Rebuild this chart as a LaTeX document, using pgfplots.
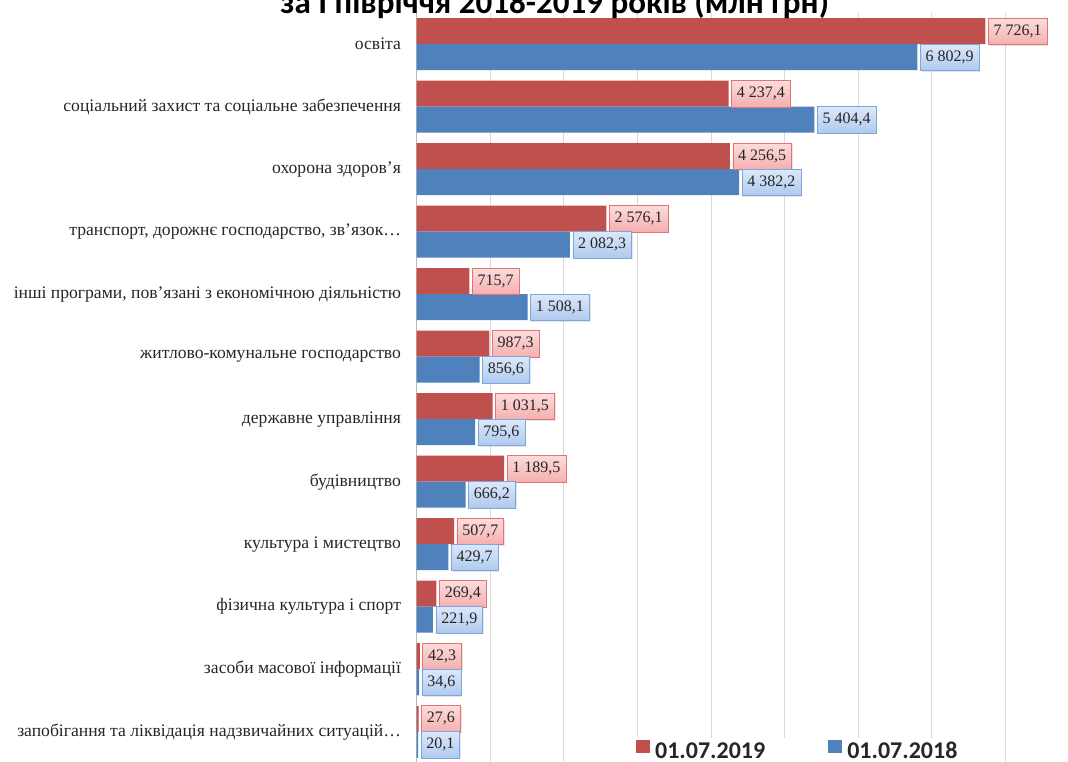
\documentclass[border=0pt]{standalone}
\usepackage{pgfplots}
\pgfplotsset{compat=1.18}
\usepackage{fontspec}
\setmainfont{Liberation Serif}
\newfontfamily\calibri{Carlito}
\usetikzlibrary{shadows}
\definecolor{red19}{HTML}{C0504D}
\definecolor{blue18}{HTML}{4F81BD}
\definecolor{gridc}{HTML}{D9D9D9}
\definecolor{redtop}{HTML}{FCDCDC}
\definecolor{redbot}{HTML}{F5AFAF}
\definecolor{redbrd}{HTML}{E57373}
\definecolor{bluetop}{HTML}{DCE8F9}
\definecolor{bluebot}{HTML}{AFCAEF}
\definecolor{bluebrd}{HTML}{7BA7DF}
\definecolor{txt}{HTML}{262626}

\pgfplotstableread[col sep=semicolon]{
y;v19;v18
0;7726.1;6802.9
1;4237.4;5404.4
2;4256.5;4382.2
3;2576.1;2082.3
4;715.7;1508.1
5;987.3;856.6
6;1031.5;795.6
7;1189.5;666.2
8;507.7;429.7
9;269.4;221.9
10;42.3;34.6
11;27.6;20.1
}\datatable

\begin{document}
\begin{tikzpicture}[x=1pt,y=1pt]
\useasboundingbox (0,0) rectangle (801,571.5);
\clip (0,0) rectangle (801,571.5);
\begin{axis}[
  at={(312.5pt,-0.75pt)}, anchor=south west,
  scale only axis, width=488.5pt, height=562.5pt,
  xmin=0, xmax=8850, ymin=-0.5, ymax=11.5, y dir=reverse,
  xbar, bar width=19.5pt,
  axis lines*=left,
  x axis line style={draw=none},
  y axis line style={draw=gray!55},
  xtick={0,1000,...,8000}, xticklabels={},
  xmajorgrids, major grid style={gridc, line width=0.6pt},
  tick style={draw=none},
  ytick={0,...,11},
  yticklabels={освіта,
    соціальний захист та соціальне забезпечення,
    охорона здоров’я,
    {транспорт, дорожнє господарство, зв’язок…},
    {інші програми, пов’язані з економічною діяльністю},
    житлово-комунальне господарство,
    державне управління,
    будівництво,
    культура і мистецтво,
    фізична культура і спорт,
    засоби масової інформації,
    запобігання та ліквідація надзвичайних ситуацій…},
  yticklabel style={font=\fontsize{13.2}{15}\selectfont, text=txt, anchor=east, xshift=-4pt},
  point meta=x,
  nodes near coords={\pgfmathprintnumber[fixed,fixed zerofill,precision=1,use comma,1000 sep={~},assume math mode=true]{\pgfplotspointmeta}},
  legend style={at={(axis description cs:0.334,-0.003)}, anchor=south west, draw=none, fill=white,
    inner sep=1pt, legend columns=2,
    font=\calibri\bfseries\fontsize{18}{20}\selectfont, text=txt,
    /tikz/every even column/.append style={column sep=45pt}},
  legend image code/.code={\fill[#1,draw=none] (0pt,-1pt) rectangle (10.5pt,9pt);},
]
\addplot[fill=red19, draw=none, bar shift=9.75pt,
  every node near coord/.append style={font=\fontsize{12}{14}\selectfont, text=txt, anchor=west, xshift=2pt,
    draw=redbrd, top color=redtop, bottom color=redbot, inner xsep=4pt, inner ysep=5pt,
    drop shadow={opacity=0.2, shadow xshift=1pt, shadow yshift=-1pt}}]
  table[x=v19, y=y] {\datatable};
\addlegendentry{\hspace{2pt}01.07.2019}
\addplot[fill=blue18, draw=none, bar shift=-9.75pt,
  every node near coord/.append style={font=\fontsize{12}{14}\selectfont, text=txt, anchor=west, xshift=2pt,
    draw=bluebrd, top color=bluetop, bottom color=bluebot, inner xsep=4pt, inner ysep=5pt,
    drop shadow={opacity=0.2, shadow xshift=1pt, shadow yshift=-1pt}}]
  table[x=v18, y=y] {\datatable};
\addlegendentry{\hspace{2pt}01.07.2018}
\end{axis}
\node[font=\calibri\bfseries\fontsize{24.8}{28}\selectfont, text=black, anchor=base] at (416,561) {за І півріччя  2018-2019 років (млн грн)};
\end{tikzpicture}
\end{document}
